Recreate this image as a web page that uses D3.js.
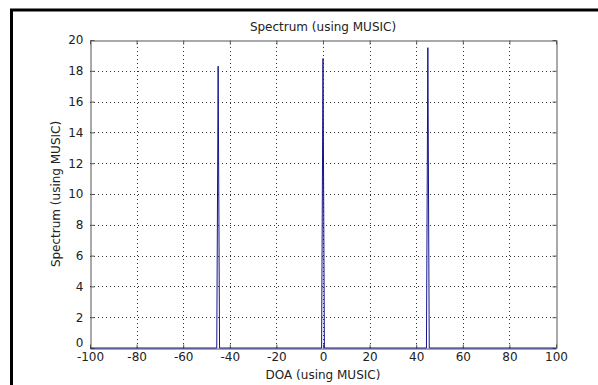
<!DOCTYPE html>
<html>
<head>
<meta charset="utf-8">
<script src="https://cdn.jsdelivr.net/npm/d3@7"></script>
<style>
body { margin: 0; background: #fff; }
svg text { font-family: "DejaVu Sans", sans-serif; font-size: 12px; fill: #222; }
</style>
</head>
<body>
<div id="chart"></div>
<script>
var W = 598, H = 385;
var margin = {left: 90, top: 40, right: 42, bottom: 37};

// data
var doa = [-100, -45.6, -45, -44.4, -0.6, 0, 0.6, 44.4, 45, 45.6, 100];
var spectrum = [0, 0, 18.3, 0, 0, 18.8, 0, 0, 19.5, 0, 0];
var xTicks = [-100, -80, -60, -40, -20, 0, 20, 40, 60, 80, 100];
var yTicks = [0, 2, 4, 6, 8, 10, 12, 14, 16, 18, 20];
var title = "Spectrum (using MUSIC)";
var xLabel = "DOA (using MUSIC)";
var yLabel = "Spectrum (using MUSIC)";

var svg = d3.select('#chart').append('svg')
	.attr('width', W)
	.attr('height', H);

// frame of the figure (only top and left visible)
svg.append('path')
	.attr('d', 'M11.5 ' + H + ' L11.5 10 L' + W + ' 10')
	.attr('fill', 'none')
	.attr('stroke', '#000')
	.attr('stroke-width', 3);

var x = d3.scaleLinear().domain([-100, 100]).range([margin.left, W - margin.right]);
var y = d3.scaleLinear().domain([0, 20]).range([H - margin.bottom, margin.top]);

var x0 = x(-100), x1 = x(100), y0 = y(0), y1 = y(20);
var fmt = function(d) { return String(d); };	// plain hyphen minus like matlab

// dotted grid
var grid = svg.append('g').attr('stroke', '#333').attr('stroke-width', 1).attr('stroke-dasharray', '1,3');
grid.selectAll('.gx').data(xTicks.slice(1, -1)).enter().append('line')
	.attr('x1', function(d) { return Math.round(x(d)) + 0.5; })
	.attr('x2', function(d) { return Math.round(x(d)) + 0.5; })
	.attr('y1', y0).attr('y2', y1);
grid.selectAll('.gy').data(yTicks.slice(1, -1)).enter().append('line')
	.attr('y1', function(d) { return Math.round(y(d)) + 0.5; })
	.attr('y2', function(d) { return Math.round(y(d)) + 0.5; })
	.attr('x1', x0).attr('x2', x1);

// axes, ticks on all four sides pointing inward
var axisCol = '#555';
var xb = svg.append('g').attr('transform', 'translate(0,' + (Math.round(y0) + 0.5) + ')')
	.call(d3.axisBottom(x).tickValues(xTicks).tickFormat(fmt).tickSizeInner(-4).tickSizeOuter(0).tickPadding(7));
var xt = svg.append('g').attr('transform', 'translate(0,' + (Math.round(y1) + 0.5) + ')')
	.call(d3.axisTop(x).tickValues(xTicks).tickSizeInner(-4).tickSizeOuter(0).tickFormat(''));
var yl = svg.append('g').attr('transform', 'translate(' + (Math.round(x0) + 0.5) + ',0)')
	.call(d3.axisLeft(y).tickValues(yTicks).tickFormat(fmt).tickSizeInner(-4).tickSizeOuter(0).tickPadding(7));
var yr = svg.append('g').attr('transform', 'translate(' + (Math.round(x1) + 0.5) + ',0)')
	.call(d3.axisRight(y).tickValues(yTicks).tickSizeInner(-4).tickSizeOuter(0).tickFormat(''));

[xb, xt, yl, yr].forEach(function(g) {
	g.select('.domain').attr('stroke', axisCol);
	g.selectAll('.tick line').attr('stroke', axisCol);
	g.selectAll('text').attr('font-family', null).attr('font-size', null).attr('fill', null);
});
xb.selectAll('.tick text').attr('dy', '0.45em');
yl.selectAll('.tick text').filter(function(d) { return d === 0; }).attr('dy', '-0.1em');

// spectrum line
var line = d3.line()
	.x(function(d, i) { return x(doa[i]); })
	.y(function(d) { return y(d); });
svg.append('path')
	.datum(spectrum)
	.attr('d', line)
	.attr('fill', 'none')
	.attr('stroke', '#14148c')
	.attr('stroke-width', 1);

// labels
svg.append('text').attr('x', (x0 + x1) / 2).attr('y', 31).attr('text-anchor', 'middle').text(title);
svg.append('text').attr('x', (x0 + x1) / 2).attr('y', 379).attr('text-anchor', 'middle').text(xLabel);
svg.append('text')
	.attr('transform', 'translate(60,' + ((y0 + y1) / 2) + ') rotate(-90)')
	.attr('text-anchor', 'middle')
	.text(yLabel);
</script>
</body>
</html>
